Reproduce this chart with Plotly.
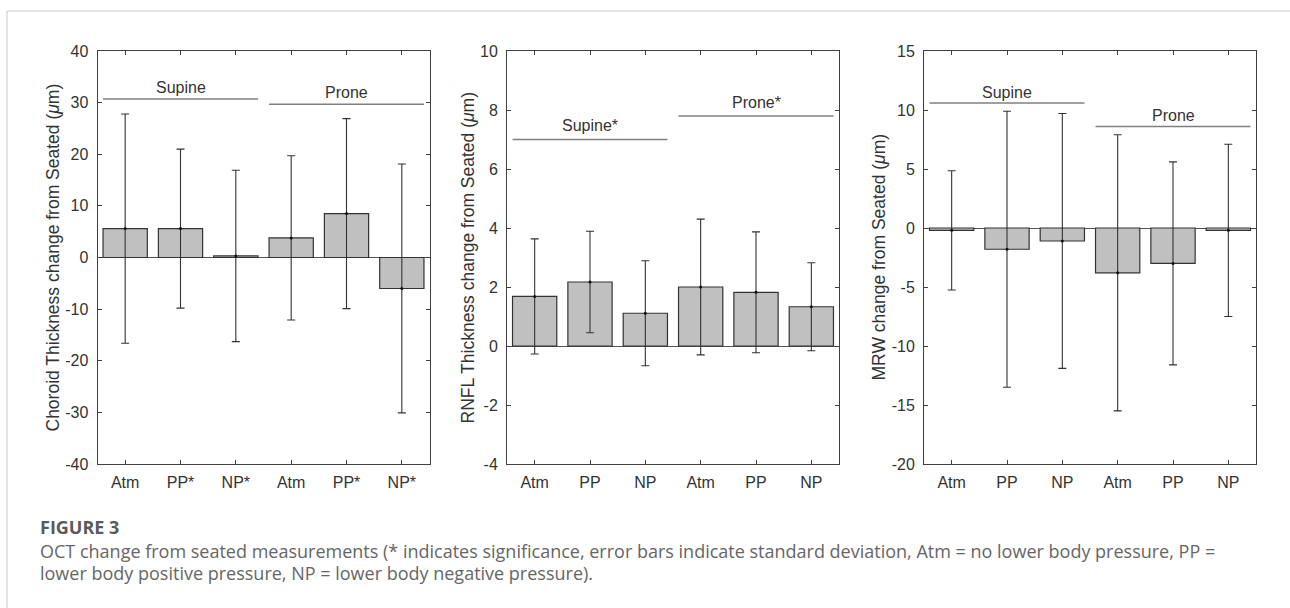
import plotly.graph_objects as go

W, H = 1290, 608

# ---------------- data ----------------
positions = [1, 2, 3, 4, 5, 6]
labels_choroid = ["Atm", "PP*", "NP*", "Atm", "PP*", "NP*"]
labels_rnfl = ["Atm", "PP", "NP", "Atm", "PP", "NP"]
labels_mrw = ["Atm", "PP", "NP", "Atm", "PP", "NP"]

choroid_mean = [5.6, 5.6, 0.3, 3.8, 8.5, -6.0]
choroid_sd = [22.2, 15.4, 16.6, 15.9, 18.4, 24.1]

rnfl_mean = [1.68, 2.17, 1.11, 2.0, 1.82, 1.33]
rnfl_sd = [1.95, 1.72, 1.78, 2.3, 2.05, 1.49]

mrw_mean = [-0.2, -1.8, -1.1, -3.8, -3.0, -0.2]
mrw_sd = [5.05, 11.7, 10.8, 11.7, 8.6, 7.3]

group_names_choroid = ["Supine", "Prone"]
group_names_rnfl = ["Supine*", "Prone*"]
group_names_mrw = ["Supine", "Prone"]
group_line_y_choroid = [30.7, 29.7]
group_line_y_rnfl = [7.0, 7.8]
group_line_y_mrw = [10.6, 8.6]
group_text_y_choroid = [33.0, 31.9]
group_text_y_rnfl = [7.49, 8.26]
group_text_y_mrw = [11.47, 9.5]
group_x0 = [0.6, 3.6]
group_x1 = [3.4, 6.4]
group_xc = [2, 5]

ytitles = ["Choroid Thickness change from Seated (<i>μ</i>m)",
           "RNFL Thickness change from Seated (<i>μ</i>m)",
           "MRW change from Seated (<i>μ</i>m)"]
yranges = [[-40, 40], [-4, 10], [-20, 15]]
ytickvals = [[-40, -30, -20, -10, 0, 10, 20, 30, 40],
             [-4, -2, 0, 2, 4, 6, 8, 10],
             [-20, -15, -10, -5, 0, 5, 10, 15]]
yticktext = [["-40", "-30", "-20", "-10", "0", "10", "20", "30", "40"],
             ["-4", "-2", "0", "2", "4", "6", "8", "10"],
             ["-20", "-15", "-10", "-5", "0", "5", "10", "15"]]

caption_title = "FIGURE 3"
caption_lines = [
    "OCT change from seated measurements (* indicates significance, error bars indicate standard deviation, Atm = no lower body pressure, PP =",
    "lower body positive pressure, NP = lower body negative pressure).",
]

# ---------------- layout helpers ----------------
def px(x):
    return x / W

def py(y):
    return 1 - y / H

panel_x = [(97.5, 429.5), (507, 839), (924, 1256)]
panel_top, panel_bot = 51, 464
ytitle_x = [52, 467, 878]

FONT = "Liberation Sans, Arial, sans-serif"
AX = "#404040"

panels = [
    (choroid_mean, choroid_sd, labels_choroid, group_names_choroid, group_line_y_choroid, group_text_y_choroid),
    (rnfl_mean, rnfl_sd, labels_rnfl, group_names_rnfl, group_line_y_rnfl, group_text_y_rnfl),
    (mrw_mean, mrw_sd, labels_mrw, group_names_mrw, group_line_y_mrw, group_text_y_mrw),
]

fig = go.Figure()
shapes = []
annotations = []
layout = {}

for i, (mean, sd, labs, gnames, gly, gty) in enumerate(panels):
    sfx = "" if i == 0 else str(i + 1)
    xref = "x" + sfx
    yref = "y" + sfx
    fig.add_trace(go.Bar(
        x=positions, y=mean, width=0.8,
        marker=dict(color="#c0c0c0", line=dict(color="#333333", width=1.2)),
        xaxis=xref, yaxis=yref, showlegend=False, hoverinfo="skip",
    ))
    fig.add_trace(go.Scatter(
        x=positions, y=mean, mode="markers",
        marker=dict(color="#111111", size=3),
        error_y=dict(type="data", array=sd, visible=True, color="#333333", thickness=1.1, width=4),
        xaxis=xref, yaxis=yref, showlegend=False, hoverinfo="skip",
    ))
    x0, x1 = panel_x[i]
    layout["xaxis" + sfx] = dict(
        domain=[px(x0), px(x1)], anchor=yref, range=[0.5, 6.5],
        tickmode="array", tickvals=positions, ticktext=labs,
        ticks="inside", ticklen=4, tickcolor=AX, tickwidth=1,
        showline=True, linecolor=AX, linewidth=1, mirror="ticks",
        showgrid=False, zeroline=False, automargin=False,
        ticklabelstandoff=4,
        tickfont=dict(family=FONT, size=16, color="#333333"),
    )
    layout["yaxis" + sfx] = dict(
        domain=[py(panel_bot), py(panel_top)], anchor=xref, range=yranges[i],
        tickmode="array", tickvals=ytickvals[i], ticktext=yticktext[i],
        ticks="inside", ticklen=4, tickcolor=AX, tickwidth=1,
        showline=True, linecolor=AX, linewidth=1, mirror="ticks",
        showgrid=False, zeroline=True, zerolinecolor="#555555", zerolinewidth=1,
        automargin=False, ticklabelstandoff=5,
        tickfont=dict(family=FONT, size=16, color="#333333"),
    )
    annotations.append(dict(
        text=ytitles[i], xref="paper", yref="paper",
        x=px(ytitle_x[i]), y=py((panel_top + panel_bot) / 2),
        textangle=-90, showarrow=False, xanchor="center", yanchor="middle",
        font=dict(family=FONT, size=17.5, color="#333333"),
    ))
    for g in range(2):
        shapes.append(dict(type="line", xref=xref, yref=yref,
                           x0=group_x0[g], x1=group_x1[g], y0=gly[g], y1=gly[g],
                           line=dict(color="#808080", width=1.5)))
        annotations.append(dict(
            text=gnames[g], xref=xref, yref=yref, x=group_xc[g], y=gty[g],
            showarrow=False, xanchor="center", yanchor="middle",
            font=dict(family=FONT, size=16, color="#333333"),
        ))

# outer frame
shapes.append(dict(type="line", xref="paper", yref="paper", x0=px(7), x1=1, y0=py(11), y1=py(11),
                   line=dict(color="#c8c8c8", width=1)))
shapes.append(dict(type="line", xref="paper", yref="paper", x0=px(7), x1=px(7), y0=py(11), y1=0,
                   line=dict(color="#c8c8c8", width=1)))

# caption
annotations.append(dict(
    text="<b>" + caption_title + "</b>", xref="paper", yref="paper",
    x=px(38), y=py(527), xanchor="left", yanchor="middle", showarrow=False,
    font=dict(family="Open Sans, sans-serif", size=18, color="#5a5a5a"),
))
for k, line in enumerate(caption_lines):
    annotations.append(dict(
        text=line, xref="paper", yref="paper",
        x=px(38), y=py(551 + 22 * k), xanchor="left", yanchor="middle", showarrow=False,
        font=dict(family="Open Sans, sans-serif", size=18, color="#666666"),
    ))

fig.update_layout(
    width=W, height=H,
    margin=dict(l=0, r=0, t=0, b=0),
    paper_bgcolor="white", plot_bgcolor="white",
    barmode="overlay",
    shapes=shapes, annotations=annotations,
    **layout,
)

fig.write_html("out.html")
